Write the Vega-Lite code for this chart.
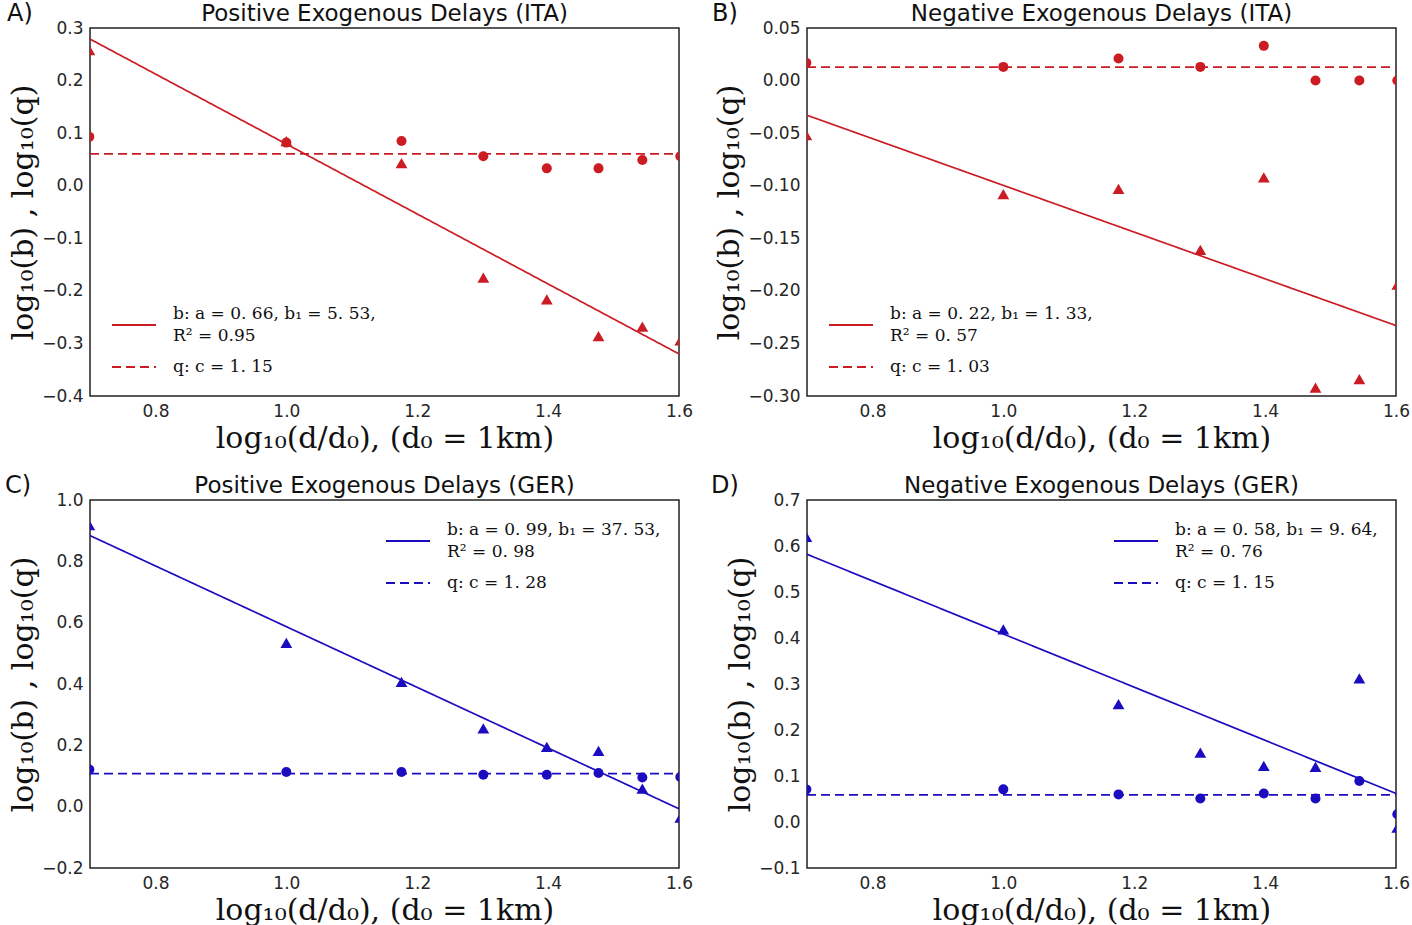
{
  "$schema": "https://vega.github.io/schema/vega-lite/v6.json",
  "background": "white",
  "padding": {"left": 4, "top": 1, "right": 5, "bottom": 5},
  "bounds": "flush",
  "columns": 2,
  "spacing": {"row": 104, "column": 128},
  "resolve": {"scale": {"strokeDash": "independent"}, "legend": {"strokeDash": "independent"}},
  "datasets": {
    "pts": [
      {"panel": "A", "param": "b", "logd": 0.699, "value": 0.258},
      {"panel": "A", "param": "b", "logd": 1.0, "value": 0.085},
      {"panel": "A", "param": "b", "logd": 1.176, "value": 0.043},
      {"panel": "A", "param": "b", "logd": 1.301, "value": -0.175},
      {"panel": "A", "param": "b", "logd": 1.398, "value": -0.216},
      {"panel": "A", "param": "b", "logd": 1.477, "value": -0.286},
      {"panel": "A", "param": "b", "logd": 1.544, "value": -0.268},
      {"panel": "A", "param": "b", "logd": 1.602, "value": -0.294},
      {"panel": "A", "param": "q", "logd": 0.699, "value": 0.093},
      {"panel": "A", "param": "q", "logd": 1.0, "value": 0.082},
      {"panel": "A", "param": "q", "logd": 1.176, "value": 0.085},
      {"panel": "A", "param": "q", "logd": 1.301, "value": 0.056},
      {"panel": "A", "param": "q", "logd": 1.398, "value": 0.033},
      {"panel": "A", "param": "q", "logd": 1.477, "value": 0.033},
      {"panel": "A", "param": "q", "logd": 1.544, "value": 0.049},
      {"panel": "A", "param": "q", "logd": 1.602, "value": 0.056},
      {"panel": "B", "param": "b", "logd": 0.699, "value": -0.052},
      {"panel": "B", "param": "b", "logd": 1.0, "value": -0.108},
      {"panel": "B", "param": "b", "logd": 1.176, "value": -0.103},
      {"panel": "B", "param": "b", "logd": 1.301, "value": -0.161},
      {"panel": "B", "param": "b", "logd": 1.398, "value": -0.092},
      {"panel": "B", "param": "b", "logd": 1.477, "value": -0.292},
      {"panel": "B", "param": "b", "logd": 1.544, "value": -0.284},
      {"panel": "B", "param": "b", "logd": 1.602, "value": -0.194},
      {"panel": "B", "param": "q", "logd": 0.699, "value": 0.017},
      {"panel": "B", "param": "q", "logd": 1.0, "value": 0.013},
      {"panel": "B", "param": "q", "logd": 1.176, "value": 0.021},
      {"panel": "B", "param": "q", "logd": 1.301, "value": 0.013},
      {"panel": "B", "param": "q", "logd": 1.398, "value": 0.033},
      {"panel": "B", "param": "q", "logd": 1.477, "value": 0.0},
      {"panel": "B", "param": "q", "logd": 1.544, "value": 0.0},
      {"panel": "B", "param": "q", "logd": 1.602, "value": 0.0},
      {"panel": "C", "param": "b", "logd": 0.699, "value": 0.918},
      {"panel": "C", "param": "b", "logd": 1.0, "value": 0.534},
      {"panel": "C", "param": "b", "logd": 1.176, "value": 0.407},
      {"panel": "C", "param": "b", "logd": 1.301, "value": 0.255},
      {"panel": "C", "param": "b", "logd": 1.398, "value": 0.195},
      {"panel": "C", "param": "b", "logd": 1.477, "value": 0.182},
      {"panel": "C", "param": "b", "logd": 1.544, "value": 0.059},
      {"panel": "C", "param": "b", "logd": 1.602, "value": -0.036},
      {"panel": "C", "param": "q", "logd": 0.699, "value": 0.121},
      {"panel": "C", "param": "q", "logd": 1.0, "value": 0.113},
      {"panel": "C", "param": "q", "logd": 1.176, "value": 0.113},
      {"panel": "C", "param": "q", "logd": 1.301, "value": 0.104},
      {"panel": "C", "param": "q", "logd": 1.398, "value": 0.104},
      {"panel": "C", "param": "q", "logd": 1.477, "value": 0.11},
      {"panel": "C", "param": "q", "logd": 1.544, "value": 0.095},
      {"panel": "C", "param": "q", "logd": 1.602, "value": 0.097},
      {"panel": "D", "param": "b", "logd": 0.699, "value": 0.62},
      {"panel": "D", "param": "b", "logd": 1.0, "value": 0.419},
      {"panel": "D", "param": "b", "logd": 1.176, "value": 0.256},
      {"panel": "D", "param": "b", "logd": 1.301, "value": 0.151},
      {"panel": "D", "param": "b", "logd": 1.398, "value": 0.122},
      {"panel": "D", "param": "b", "logd": 1.477, "value": 0.12},
      {"panel": "D", "param": "b", "logd": 1.544, "value": 0.312},
      {"panel": "D", "param": "b", "logd": 1.602, "value": -0.012},
      {"panel": "D", "param": "q", "logd": 0.699, "value": 0.071},
      {"panel": "D", "param": "q", "logd": 1.0, "value": 0.071},
      {"panel": "D", "param": "q", "logd": 1.176, "value": 0.06},
      {"panel": "D", "param": "q", "logd": 1.301, "value": 0.051},
      {"panel": "D", "param": "q", "logd": 1.398, "value": 0.062},
      {"panel": "D", "param": "q", "logd": 1.477, "value": 0.051},
      {"panel": "D", "param": "q", "logd": 1.544, "value": 0.089},
      {"panel": "D", "param": "q", "logd": 1.602, "value": 0.017}
    ],
    "fits": [
      {"panel": "A", "fit": "b: a = 0. 66, b₁ = 5. 53,|R² = 0.95", "logd": 0.7, "value": 0.279},
      {"panel": "A", "fit": "b: a = 0. 66, b₁ = 5. 53,|R² = 0.95", "logd": 1.6, "value": -0.32},
      {"panel": "A", "fit": "q: c = 1. 15", "logd": 0.7, "value": 0.0607},
      {"panel": "A", "fit": "q: c = 1. 15", "logd": 1.6, "value": 0.0607},
      {"panel": "B", "fit": "b: a = 0. 22, b₁ = 1. 33,|R² = 0. 57", "logd": 0.7, "value": -0.033},
      {"panel": "B", "fit": "b: a = 0. 22, b₁ = 1. 33,|R² = 0. 57", "logd": 1.6, "value": -0.233},
      {"panel": "B", "fit": "q: c = 1. 03", "logd": 0.7, "value": 0.0128},
      {"panel": "B", "fit": "q: c = 1. 03", "logd": 1.6, "value": 0.0128},
      {"panel": "C", "fit": "b: a = 0. 99, b₁ = 37. 53,|R² = 0. 98", "logd": 0.7, "value": 0.884},
      {"panel": "C", "fit": "b: a = 0. 99, b₁ = 37. 53,|R² = 0. 98", "logd": 1.6, "value": -0.007},
      {"panel": "C", "fit": "q: c = 1. 28", "logd": 0.7, "value": 0.108},
      {"panel": "C", "fit": "q: c = 1. 28", "logd": 1.6, "value": 0.108},
      {"panel": "D", "fit": "b: a = 0. 58, b₁ = 9. 64,|R² = 0. 76", "logd": 0.7, "value": 0.582},
      {"panel": "D", "fit": "b: a = 0. 58, b₁ = 9. 64,|R² = 0. 76", "logd": 1.6, "value": 0.062},
      {"panel": "D", "fit": "q: c = 1. 15", "logd": 0.7, "value": 0.059},
      {"panel": "D", "fit": "q: c = 1. 15", "logd": 1.6, "value": 0.059}
    ]
  },
  "config": {
    "view": {"stroke": "#222222", "strokeWidth": 1.5},
    "font": "DejaVu Sans",
    "title": {"font": "DejaVu Sans", "fontSize": 23, "fontWeight": "normal", "color": "#111111", "offset": -24, "anchor": "middle"},
    "axis": {"grid": false, "ticks": false, "domain": false, "labelFont": "DejaVu Sans", "labelFontSize": 17, "labelColor": "#262626", "labelPadding": 7, "titleFont": "DejaVu Serif", "titleFontSize": 30, "titleFontWeight": "normal", "titleColor": "#111111"},
    "axisX": {"labelFlush": false, "titlePadding": 4},
    "axisY": {"titlePadding": 3},
    "legend": {"title": null, "padding": 0, "offset": 18, "labelFont": "DejaVu Serif", "labelFontSize": 17, "labelColor": "#111111", "symbolType": "stroke", "symbolSize": 1936, "symbolStrokeWidth": 1.8, "labelOffset": 16, "rowPadding": 0, "labelLimit": 500}
  },
  "concat": [
    {
      "title": "Positive Exogenous Delays (ITA)",
      "width": 589, "height": 368,
      "layer": [
        {
          "data": {"name": "fits"},
          "transform": [{"filter": "datum.panel == 'A'"}],
          "mark": {"type": "line", "clip": true, "color": "#cb1b23", "strokeWidth": 1.7},
          "encoding": {
            "x": {"field": "logd", "type": "quantitative", "scale": {"domain": [0.7, 1.6], "nice": false, "zero": false}, "axis": {"values": [0.8, 1.0, 1.2, 1.4, 1.6], "format": ".1f"}, "title": "log₁₀(d/d₀),  (d₀ = 1km)"},
            "y": {"field": "value", "type": "quantitative", "scale": {"domain": [-0.4, 0.3], "nice": false, "zero": false}, "axis": {"values": [-0.4, -0.3, -0.2, -0.1, 0.0, 0.1, 0.2, 0.3], "format": ".1f"}, "title": "log₁₀(b) , log₁₀(q)"},
            "strokeDash": {"field": "fit", "type": "nominal", "scale": {"range": [[1, 0], [9, 5]]}, "legend": {"orient": "bottom-left", "offset": 21, "labelExpr": "split(datum.label, '|')", "symbolStrokeColor": "#cb1b23", "encoding": {"labels": {"lineHeight": {"value": 22}, "dy": {"value": {"expr": "indexof(datum.value, '|') >= 0 ? -11 : 0"}}}}}}
          }
        },
        {
          "data": {"name": "pts"},
          "transform": [{"filter": "datum.panel == 'A'"}],
          "mark": {"type": "point", "filled": true, "clip": true, "opacity": 1, "color": "#cb1b23"},
          "encoding": {
            "x": {"field": "logd", "type": "quantitative", "title": "log₁₀(d/d₀),  (d₀ = 1km)"},
            "y": {"field": "value", "type": "quantitative", "title": "log₁₀(b) , log₁₀(q)"},
            "shape": {"field": "param", "type": "nominal", "scale": {"domain": ["b", "q"], "range": ["triangle-up", "circle"]}, "legend": null},
            "size": {"field": "param", "type": "nominal", "scale": {"domain": ["b", "q"], "range": [140, 100]}, "legend": null}
          }
        },
        {
          "data": {"values": [{"label": "A)"}]},
          "mark": {"type": "text", "font": "DejaVu Sans", "fontSize": 24, "align": "left", "baseline": "middle", "dx": -83, "dy": -14, "color": "#111111"},
          "encoding": {
            "text": {"field": "label"},
            "x": {"datum": 0.7, "type": "quantitative", "title": "log₁₀(d/d₀),  (d₀ = 1km)"},
            "y": {"datum": 0.3, "type": "quantitative", "title": "log₁₀(b) , log₁₀(q)"}
          }
        }
      ]
    },
    {
      "title": "Negative Exogenous Delays (ITA)",
      "width": 589, "height": 368,
      "layer": [
        {
          "data": {"name": "fits"},
          "transform": [{"filter": "datum.panel == 'B'"}],
          "mark": {"type": "line", "clip": true, "color": "#cb1b23", "strokeWidth": 1.7},
          "encoding": {
            "x": {"field": "logd", "type": "quantitative", "scale": {"domain": [0.7, 1.6], "nice": false, "zero": false}, "axis": {"values": [0.8, 1.0, 1.2, 1.4, 1.6], "format": ".1f"}, "title": "log₁₀(d/d₀),  (d₀ = 1km)"},
            "y": {"field": "value", "type": "quantitative", "scale": {"domain": [-0.3, 0.05], "nice": false, "zero": false}, "axis": {"values": [-0.3, -0.25, -0.2, -0.15, -0.1, -0.05, 0.0, 0.05], "format": ".2f"}, "title": "log₁₀(b) , log₁₀(q)"},
            "strokeDash": {"field": "fit", "type": "nominal", "scale": {"range": [[1, 0], [9, 5]]}, "legend": {"orient": "bottom-left", "offset": 21, "labelExpr": "split(datum.label, '|')", "symbolStrokeColor": "#cb1b23", "encoding": {"labels": {"lineHeight": {"value": 22}, "dy": {"value": {"expr": "indexof(datum.value, '|') >= 0 ? -11 : 0"}}}}}}
          }
        },
        {
          "data": {"name": "pts"},
          "transform": [{"filter": "datum.panel == 'B'"}],
          "mark": {"type": "point", "filled": true, "clip": true, "opacity": 1, "color": "#cb1b23"},
          "encoding": {
            "x": {"field": "logd", "type": "quantitative", "title": "log₁₀(d/d₀),  (d₀ = 1km)"},
            "y": {"field": "value", "type": "quantitative", "title": "log₁₀(b) , log₁₀(q)"},
            "shape": {"field": "param", "type": "nominal", "scale": {"domain": ["b", "q"], "range": ["triangle-up", "circle"]}, "legend": null},
            "size": {"field": "param", "type": "nominal", "scale": {"domain": ["b", "q"], "range": [140, 100]}, "legend": null}
          }
        },
        {
          "data": {"values": [{"label": "B)"}]},
          "mark": {"type": "text", "font": "DejaVu Sans", "fontSize": 24, "align": "left", "baseline": "middle", "dx": -95, "dy": -14, "color": "#111111"},
          "encoding": {
            "text": {"field": "label"},
            "x": {"datum": 0.7, "type": "quantitative", "title": "log₁₀(d/d₀),  (d₀ = 1km)"},
            "y": {"datum": 0.05, "type": "quantitative", "title": "log₁₀(b) , log₁₀(q)"}
          }
        }
      ]
    },
    {
      "title": "Positive Exogenous Delays (GER)",
      "width": 589, "height": 368,
      "layer": [
        {
          "data": {"name": "fits"},
          "transform": [{"filter": "datum.panel == 'C'"}],
          "mark": {"type": "line", "clip": true, "color": "#1c0cbf", "strokeWidth": 1.7},
          "encoding": {
            "x": {"field": "logd", "type": "quantitative", "scale": {"domain": [0.7, 1.6], "nice": false, "zero": false}, "axis": {"values": [0.8, 1.0, 1.2, 1.4, 1.6], "format": ".1f"}, "title": "log₁₀(d/d₀),  (d₀ = 1km)"},
            "y": {"field": "value", "type": "quantitative", "scale": {"domain": [-0.2, 1.0], "nice": false, "zero": false}, "axis": {"values": [-0.2, 0.0, 0.2, 0.4, 0.6, 0.8, 1.0], "format": ".1f"}, "title": "log₁₀(b) , log₁₀(q)"},
            "strokeDash": {"field": "fit", "type": "nominal", "scale": {"range": [[1, 0], [9, 5]]}, "legend": {"orient": "top-right", "labelExpr": "split(datum.label, '|')", "symbolStrokeColor": "#1c0cbf", "encoding": {"labels": {"lineHeight": {"value": 22}, "dy": {"value": {"expr": "indexof(datum.value, '|') >= 0 ? -11 : 0"}}}}}}
          }
        },
        {
          "data": {"name": "pts"},
          "transform": [{"filter": "datum.panel == 'C'"}],
          "mark": {"type": "point", "filled": true, "clip": true, "opacity": 1, "color": "#1c0cbf"},
          "encoding": {
            "x": {"field": "logd", "type": "quantitative", "title": "log₁₀(d/d₀),  (d₀ = 1km)"},
            "y": {"field": "value", "type": "quantitative", "title": "log₁₀(b) , log₁₀(q)"},
            "shape": {"field": "param", "type": "nominal", "scale": {"domain": ["b", "q"], "range": ["triangle-up", "circle"]}, "legend": null},
            "size": {"field": "param", "type": "nominal", "scale": {"domain": ["b", "q"], "range": [140, 100]}, "legend": null}
          }
        },
        {
          "data": {"values": [{"label": "C)"}]},
          "mark": {"type": "text", "font": "DejaVu Sans", "fontSize": 24, "align": "left", "baseline": "middle", "dx": -85, "dy": -14, "color": "#111111"},
          "encoding": {
            "text": {"field": "label"},
            "x": {"datum": 0.7, "type": "quantitative", "title": "log₁₀(d/d₀),  (d₀ = 1km)"},
            "y": {"datum": 1.0, "type": "quantitative", "title": "log₁₀(b) , log₁₀(q)"}
          }
        }
      ]
    },
    {
      "title": "Negative Exogenous Delays (GER)",
      "width": 589, "height": 368,
      "layer": [
        {
          "data": {"name": "fits"},
          "transform": [{"filter": "datum.panel == 'D'"}],
          "mark": {"type": "line", "clip": true, "color": "#1c0cbf", "strokeWidth": 1.7},
          "encoding": {
            "x": {"field": "logd", "type": "quantitative", "scale": {"domain": [0.7, 1.6], "nice": false, "zero": false}, "axis": {"values": [0.8, 1.0, 1.2, 1.4, 1.6], "format": ".1f"}, "title": "log₁₀(d/d₀),  (d₀ = 1km)"},
            "y": {"field": "value", "type": "quantitative", "scale": {"domain": [-0.1, 0.7], "nice": false, "zero": false}, "axis": {"values": [-0.1, 0.0, 0.1, 0.2, 0.3, 0.4, 0.5, 0.6, 0.7], "format": ".1f"}, "title": "log₁₀(b) , log₁₀(q)"},
            "strokeDash": {"field": "fit", "type": "nominal", "scale": {"range": [[1, 0], [9, 5]]}, "legend": {"orient": "top-right", "labelExpr": "split(datum.label, '|')", "symbolStrokeColor": "#1c0cbf", "encoding": {"labels": {"lineHeight": {"value": 22}, "dy": {"value": {"expr": "indexof(datum.value, '|') >= 0 ? -11 : 0"}}}}}}
          }
        },
        {
          "data": {"name": "pts"},
          "transform": [{"filter": "datum.panel == 'D'"}],
          "mark": {"type": "point", "filled": true, "clip": true, "opacity": 1, "color": "#1c0cbf"},
          "encoding": {
            "x": {"field": "logd", "type": "quantitative", "title": "log₁₀(d/d₀),  (d₀ = 1km)"},
            "y": {"field": "value", "type": "quantitative", "title": "log₁₀(b) , log₁₀(q)"},
            "shape": {"field": "param", "type": "nominal", "scale": {"domain": ["b", "q"], "range": ["triangle-up", "circle"]}, "legend": null},
            "size": {"field": "param", "type": "nominal", "scale": {"domain": ["b", "q"], "range": [140, 100]}, "legend": null}
          }
        },
        {
          "data": {"values": [{"label": "D)"}]},
          "mark": {"type": "text", "font": "DejaVu Sans", "fontSize": 24, "align": "left", "baseline": "middle", "dx": -96, "dy": -14, "color": "#111111"},
          "encoding": {
            "text": {"field": "label"},
            "x": {"datum": 0.7, "type": "quantitative", "title": "log₁₀(d/d₀),  (d₀ = 1km)"},
            "y": {"datum": 0.7, "type": "quantitative", "title": "log₁₀(b) , log₁₀(q)"}
          }
        }
      ]
    }
  ]
}
